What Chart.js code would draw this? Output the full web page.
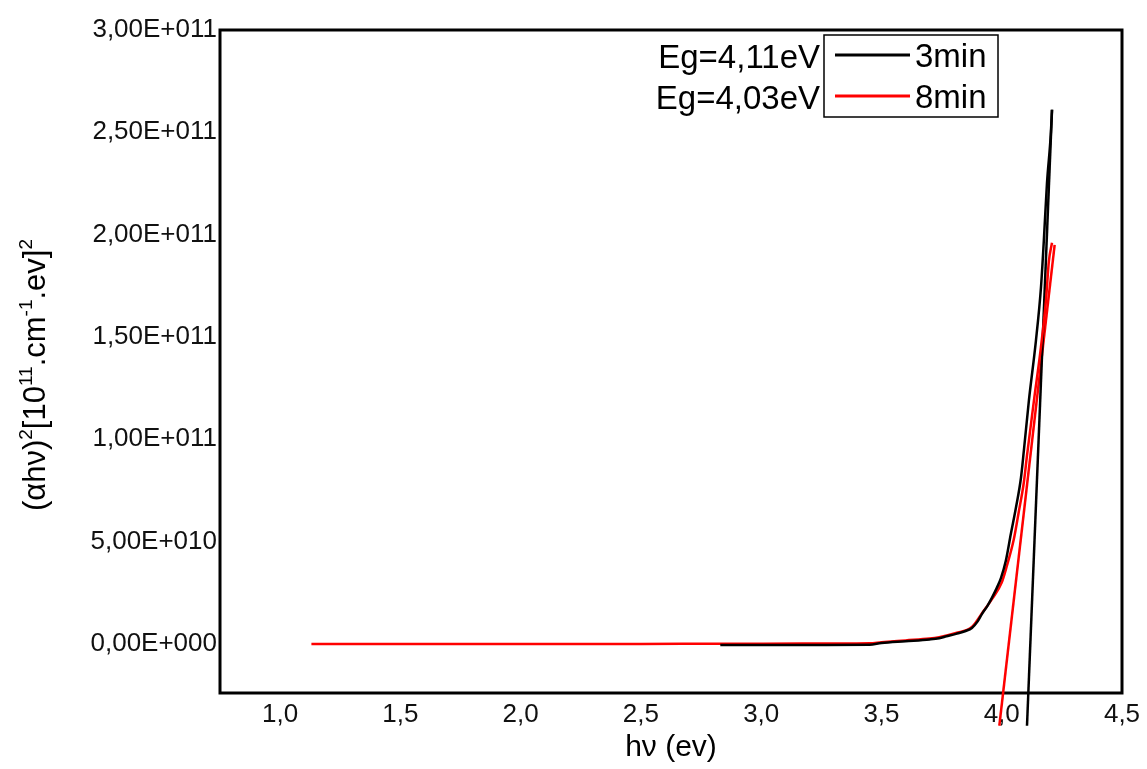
<!DOCTYPE html>
<html>
<head>
<meta charset="utf-8">
<script src="https://cdn.jsdelivr.net/npm/chart.js@4/dist/chart.umd.min.js"></script>
<style>
html,body{margin:0;padding:0;background:#fff;}
#wrap{width:1147px;height:769px;position:relative;}
</style>
</head>
<body>
<div id="wrap"><canvas id="c" width="1147" height="769"></canvas></div>
<script>
// ---- data ----
const curve3minX = [2.83, 3.0, 3.2, 3.45, 3.5, 3.6, 3.7, 3.74, 3.77, 3.81, 3.85, 3.876, 3.9, 3.918, 3.94, 3.959, 3.98, 3.997, 4.017, 4.038, 4.059, 4.080, 4.092, 4.113, 4.142, 4.163, 4.175, 4.188, 4.204, 4.209];
const curve3minY = [-5e8, -5e8, -5e8, -4e8, 4e8, 1.3e9, 2.2e9, 2.8e9, 3.7e9, 4.9e9, 6.3e9, 7.8e9, 1.1e10, 1.47e10, 1.85e10, 2.25e10, 2.75e10, 3.23e10, 4.06e10, 5.38e10, 6.65e10, 8.12e10, 9.44e10, 1.19e11, 1.48e11, 1.74e11, 1.97e11, 2.25e11, 2.49e11, 2.61e11];

const curve8minX = [1.13, 1.5, 2.0, 2.5, 2.85, 3.0, 3.3, 3.45, 3.5, 3.6, 3.7, 3.74, 3.81, 3.876, 3.918, 3.96, 4.0, 4.021, 4.05, 4.07, 4.092, 4.105, 4.134, 4.163, 4.184, 4.196, 4.209];
const curve8minY = [0, 0, 0, 0, 1e8, 1e8, 2e8, 3e8, 8e8, 1.7e9, 2.6e9, 3.3e9, 5.3e9, 8.3e9, 1.5e10, 2.2e10, 3.0e10, 3.8e10, 5.1e10, 6.4e10, 7.9e10, 9.2e10, 1.19e11, 1.45e11, 1.68e11, 1.87e11, 1.96e11];

const tangent3minX = [4.105, 4.209];
const tangent3minY = [-4.0e10, 2.61e11];
const tangent8minX = [3.99, 4.22];
const tangent8minY = [-4.0e10, 1.95e11];

const seriesLabels = ['3min', '8min'];
const gapLabels = ['Eg=4,11eV', 'Eg=4,03eV'];

const xTicks = [1.0, 1.5, 2.0, 2.5, 3.0, 3.5, 4.0, 4.5];
const xTickLabels = ['1,0', '1,5', '2,0', '2,5', '3,0', '3,5', '4,0', '4,5'];
const yTicks = [0, 5e10, 1e11, 1.5e11, 2e11, 2.5e11, 3e11];
const yTickLabels = ['0,00E+000', '5,00E+010', '1,00E+011', '1,50E+011', '2,00E+011', '2,50E+011', '3,00E+011'];

const xTitle = 'h\u03bd (ev)';
// y title segments: [text, isSuperscript]
const yTitleParts = [['(\u03b1h\u03bd)', false], ['2', true], ['[10', false], ['11', true], ['.cm', false], ['-1', true], ['.ev]', false], ['2', true]];

// ---- build ----
const FONT = '"Liberation Sans", Arial, sans-serif';
const pts = (xs, ys) => xs.map((x, i) => ({x: x, y: ys[i]}));
const lookup = (ticks, labels, v) => {
  const i = ticks.findIndex(t => Math.abs(t - v) < 1e-6 * Math.max(1, Math.abs(t)));
  return i >= 0 ? labels[i] : '';
};

const framePlugin = {
  id: 'frame',
  beforeDatasetsDraw(chart) {
    const {ctx, chartArea: a} = chart;
    ctx.save();
    ctx.strokeStyle = '#000';
    ctx.lineWidth = 3;
    ctx.strokeRect(a.left, a.top, a.right - a.left, a.bottom - a.top);
    ctx.restore();
  }
};

const yTitlePlugin = {
  id: 'ytitle',
  afterDraw(chart) {
    const {ctx} = chart;
    const main = 31, sup = 19;
    ctx.save();
    let total = 0;
    const widths = yTitleParts.map(([t, s]) => {
      ctx.font = (s ? sup : main) + 'px ' + FONT;
      const w = ctx.measureText(t).width;
      total += w;
      return w;
    });
    ctx.translate(45, 375);
    ctx.rotate(-Math.PI / 2);
    ctx.fillStyle = '#000';
    ctx.textBaseline = 'alphabetic';
    ctx.textAlign = 'left';
    let u = -total / 2;
    yTitleParts.forEach(([t, s], i) => {
      ctx.font = (s ? sup : main) + 'px ' + FONT;
      ctx.fillText(t, u, s ? -13 : 0);
      u += widths[i];
    });
    ctx.restore();
  }
};

const legendPlugin = {
  id: 'boxlegend',
  afterDraw(chart) {
    const {ctx, chartArea: a} = chart;
    const left = a.right - 298, top = a.top + 5, w = 174, h = 82;
    ctx.save();
    ctx.fillStyle = '#fff';
    ctx.fillRect(left, top, w, h);
    ctx.strokeStyle = '#000';
    ctx.lineWidth = 1.5;
    ctx.strokeRect(left, top, w, h);
    ctx.font = '33px ' + FONT;
    ctx.textBaseline = 'alphabetic';
    [0, 1].forEach(i => {
      const ds = chart.data.datasets[i];
      const lineY = top + 20 + i * 41;
      const baseY = top + 32 + i * 41;
      ctx.strokeStyle = ds.borderColor;
      ctx.lineWidth = 3;
      ctx.beginPath();
      ctx.moveTo(left + 11, lineY);
      ctx.lineTo(left + 86, lineY);
      ctx.stroke();
      ctx.fillStyle = '#000';
      ctx.textAlign = 'left';
      ctx.fillText(ds.label, left + 91, baseY);
      ctx.textAlign = 'right';
      ctx.fillText(gapLabels[i], left - 4, baseY + 1);
    });
    ctx.restore();
  }
};

const lineDs = (label, data, color, extra) => Object.assign({
  label: label, data: data, borderColor: color, backgroundColor: color,
  borderWidth: 2.5, pointRadius: 0, pointHoverRadius: 0, tension: 0, fill: false,
  borderCapStyle: 'butt', borderJoinStyle: 'round'
}, extra || {});

new Chart(document.getElementById('c'), {
  type: 'line',
  data: {
    datasets: [
      lineDs(seriesLabels[0], pts(curve3minX, curve3minY), '#000000', {cubicInterpolationMode: 'monotone'}),
      lineDs(seriesLabels[1], pts(curve8minX, curve8minY), '#ff0000', {cubicInterpolationMode: 'monotone'}),
      lineDs('', pts(tangent3minX, tangent3minY), '#000000', {clip: false}),
      lineDs('', pts(tangent8minX, tangent8minY), '#ff0000', {clip: false})
    ]
  },
  options: {
    responsive: false,
    animation: false,
    events: [],
    layout: {padding: {top: 30, right: 25, left: 0, bottom: 0}},
    plugins: {legend: {display: false}, tooltip: {enabled: false}, title: {display: false}},
    scales: {
      x: {
        type: 'linear', min: 0.75, max: 4.5,
        grid: {display: false, drawTicks: false},
        border: {display: false},
        afterBuildTicks: s => { s.ticks = xTicks.map(v => ({value: v})); },
        afterFit: s => { s.height = 76; },
        ticks: {
          autoSkip: false, maxRotation: 0, padding: 6, color: '#111',
          font: {family: FONT, size: 26},
          callback: v => lookup(xTicks, xTickLabels, v)
        },
        title: {display: true, text: xTitle, color: '#000', font: {family: FONT, size: 30}, padding: {top: 0, bottom: 3}}
      },
      y: {
        type: 'linear', min: -2.4e10, max: 3e11,
        grid: {display: false, drawTicks: false},
        border: {display: false},
        afterBuildTicks: s => { s.ticks = yTicks.map(v => ({value: v})); },
        afterFit: s => { s.width = 220; },
        ticks: {
          autoSkip: false, padding: 3, color: '#111',
          font: {family: FONT, size: 26},
          callback: v => lookup(yTicks, yTickLabels, v)
        }
      }
    }
  },
  plugins: [framePlugin, yTitlePlugin, legendPlugin]
});
</script>
</body>
</html>
